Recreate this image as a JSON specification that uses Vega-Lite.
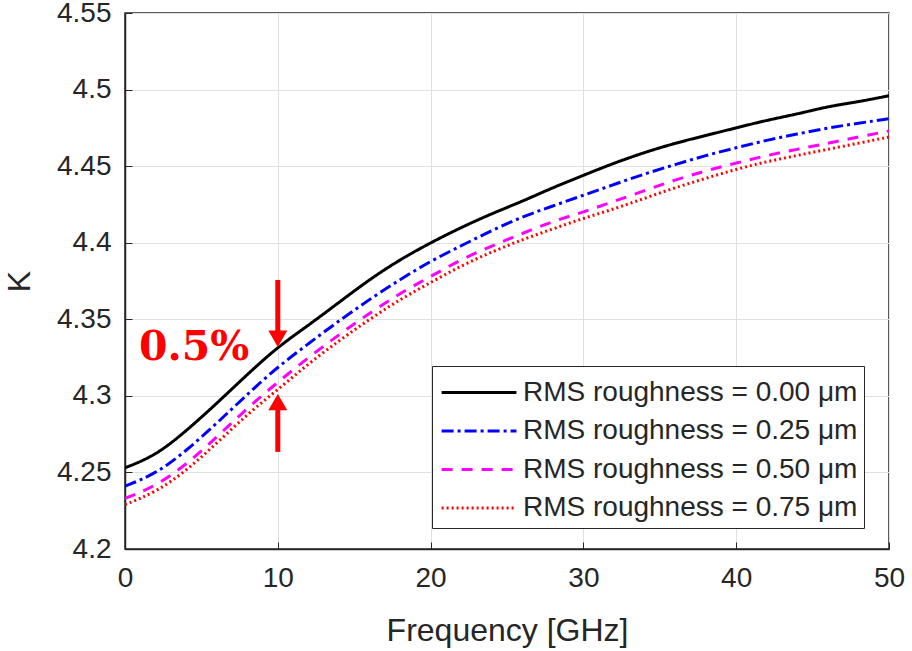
{
  "$schema": "https://vega.github.io/schema/vega-lite/v6.json",
  "width": 764,
  "height": 536,
  "autosize": {"type": "none"},
  "padding": {"left": 125, "top": 13, "right": 23, "bottom": 102},
  "background": "white",
  "config": {
    "view": {"stroke": "#262626", "strokeWidth": 1.5},
    "font": "Liberation Sans",
    "axis": {
      "labelFont": "Liberation Sans",
      "titleFont": "Liberation Sans",
      "labelColor": "#262626",
      "titleColor": "#262626",
      "domainColor": "#262626",
      "tickColor": "#262626",
      "gridColor": "#e0e0e0",
      "gridWidth": 1,
      "titleFontWeight": "normal"
    }
  },
  "layer": [
    {
      "data": {"values": [
        {"f":0,"k":4.253,"s":"RMS roughness = 0.00 μm"},{"f":2,"k":4.261,"s":"RMS roughness = 0.00 μm"},{"f":4,"k":4.277,"s":"RMS roughness = 0.00 μm"},{"f":6,"k":4.295,"s":"RMS roughness = 0.00 μm"},{"f":8,"k":4.314,"s":"RMS roughness = 0.00 μm"},{"f":10,"k":4.332,"s":"RMS roughness = 0.00 μm"},{"f":12,"k":4.346,"s":"RMS roughness = 0.00 μm"},{"f":14,"k":4.361,"s":"RMS roughness = 0.00 μm"},{"f":16,"k":4.376,"s":"RMS roughness = 0.00 μm"},{"f":18,"k":4.389,"s":"RMS roughness = 0.00 μm"},{"f":20,"k":4.400,"s":"RMS roughness = 0.00 μm"},{"f":22,"k":4.410,"s":"RMS roughness = 0.00 μm"},{"f":24,"k":4.419,"s":"RMS roughness = 0.00 μm"},{"f":26,"k":4.427,"s":"RMS roughness = 0.00 μm"},{"f":28,"k":4.436,"s":"RMS roughness = 0.00 μm"},{"f":30,"k":4.444,"s":"RMS roughness = 0.00 μm"},{"f":32,"k":4.452,"s":"RMS roughness = 0.00 μm"},{"f":34,"k":4.459,"s":"RMS roughness = 0.00 μm"},{"f":36,"k":4.465,"s":"RMS roughness = 0.00 μm"},{"f":38,"k":4.470,"s":"RMS roughness = 0.00 μm"},{"f":40,"k":4.475,"s":"RMS roughness = 0.00 μm"},{"f":42,"k":4.480,"s":"RMS roughness = 0.00 μm"},{"f":44,"k":4.484,"s":"RMS roughness = 0.00 μm"},{"f":46,"k":4.489,"s":"RMS roughness = 0.00 μm"},{"f":48,"k":4.492,"s":"RMS roughness = 0.00 μm"},{"f":50,"k":4.496,"s":"RMS roughness = 0.00 μm"},
        {"f":0,"k":4.241,"s":"RMS roughness = 0.25 μm"},{"f":2,"k":4.249,"s":"RMS roughness = 0.25 μm"},{"f":4,"k":4.264,"s":"RMS roughness = 0.25 μm"},{"f":6,"k":4.282,"s":"RMS roughness = 0.25 μm"},{"f":8,"k":4.301,"s":"RMS roughness = 0.25 μm"},{"f":10,"k":4.319,"s":"RMS roughness = 0.25 μm"},{"f":12,"k":4.334,"s":"RMS roughness = 0.25 μm"},{"f":14,"k":4.349,"s":"RMS roughness = 0.25 μm"},{"f":16,"k":4.363,"s":"RMS roughness = 0.25 μm"},{"f":18,"k":4.376,"s":"RMS roughness = 0.25 μm"},{"f":20,"k":4.388,"s":"RMS roughness = 0.25 μm"},{"f":22,"k":4.398,"s":"RMS roughness = 0.25 μm"},{"f":24,"k":4.408,"s":"RMS roughness = 0.25 μm"},{"f":26,"k":4.417,"s":"RMS roughness = 0.25 μm"},{"f":28,"k":4.424,"s":"RMS roughness = 0.25 μm"},{"f":30,"k":4.431,"s":"RMS roughness = 0.25 μm"},{"f":32,"k":4.438,"s":"RMS roughness = 0.25 μm"},{"f":34,"k":4.445,"s":"RMS roughness = 0.25 μm"},{"f":36,"k":4.451,"s":"RMS roughness = 0.25 μm"},{"f":38,"k":4.457,"s":"RMS roughness = 0.25 μm"},{"f":40,"k":4.462,"s":"RMS roughness = 0.25 μm"},{"f":42,"k":4.467,"s":"RMS roughness = 0.25 μm"},{"f":44,"k":4.471,"s":"RMS roughness = 0.25 μm"},{"f":46,"k":4.475,"s":"RMS roughness = 0.25 μm"},{"f":48,"k":4.478,"s":"RMS roughness = 0.25 μm"},{"f":50,"k":4.481,"s":"RMS roughness = 0.25 μm"},
        {"f":0,"k":4.233,"s":"RMS roughness = 0.50 μm"},{"f":2,"k":4.241,"s":"RMS roughness = 0.50 μm"},{"f":4,"k":4.255,"s":"RMS roughness = 0.50 μm"},{"f":6,"k":4.273,"s":"RMS roughness = 0.50 μm"},{"f":8,"k":4.292,"s":"RMS roughness = 0.50 μm"},{"f":10,"k":4.309,"s":"RMS roughness = 0.50 μm"},{"f":12,"k":4.325,"s":"RMS roughness = 0.50 μm"},{"f":14,"k":4.340,"s":"RMS roughness = 0.50 μm"},{"f":16,"k":4.354,"s":"RMS roughness = 0.50 μm"},{"f":18,"k":4.367,"s":"RMS roughness = 0.50 μm"},{"f":20,"k":4.378,"s":"RMS roughness = 0.50 μm"},{"f":22,"k":4.389,"s":"RMS roughness = 0.50 μm"},{"f":24,"k":4.398,"s":"RMS roughness = 0.50 μm"},{"f":26,"k":4.406,"s":"RMS roughness = 0.50 μm"},{"f":28,"k":4.414,"s":"RMS roughness = 0.50 μm"},{"f":30,"k":4.420,"s":"RMS roughness = 0.50 μm"},{"f":32,"k":4.427,"s":"RMS roughness = 0.50 μm"},{"f":34,"k":4.434,"s":"RMS roughness = 0.50 μm"},{"f":36,"k":4.441,"s":"RMS roughness = 0.50 μm"},{"f":38,"k":4.447,"s":"RMS roughness = 0.50 μm"},{"f":40,"k":4.452,"s":"RMS roughness = 0.50 μm"},{"f":42,"k":4.457,"s":"RMS roughness = 0.50 μm"},{"f":44,"k":4.461,"s":"RMS roughness = 0.50 μm"},{"f":46,"k":4.465,"s":"RMS roughness = 0.50 μm"},{"f":48,"k":4.469,"s":"RMS roughness = 0.50 μm"},{"f":50,"k":4.473,"s":"RMS roughness = 0.50 μm"},
        {"f":0,"k":4.229,"s":"RMS roughness = 0.75 μm"},{"f":2,"k":4.237,"s":"RMS roughness = 0.75 μm"},{"f":4,"k":4.251,"s":"RMS roughness = 0.75 μm"},{"f":6,"k":4.269,"s":"RMS roughness = 0.75 μm"},{"f":8,"k":4.288,"s":"RMS roughness = 0.75 μm"},{"f":10,"k":4.304,"s":"RMS roughness = 0.75 μm"},{"f":12,"k":4.321,"s":"RMS roughness = 0.75 μm"},{"f":14,"k":4.336,"s":"RMS roughness = 0.75 μm"},{"f":16,"k":4.350,"s":"RMS roughness = 0.75 μm"},{"f":18,"k":4.363,"s":"RMS roughness = 0.75 μm"},{"f":20,"k":4.374,"s":"RMS roughness = 0.75 μm"},{"f":22,"k":4.385,"s":"RMS roughness = 0.75 μm"},{"f":24,"k":4.394,"s":"RMS roughness = 0.75 μm"},{"f":26,"k":4.402,"s":"RMS roughness = 0.75 μm"},{"f":28,"k":4.409,"s":"RMS roughness = 0.75 μm"},{"f":30,"k":4.416,"s":"RMS roughness = 0.75 μm"},{"f":32,"k":4.422,"s":"RMS roughness = 0.75 μm"},{"f":34,"k":4.429,"s":"RMS roughness = 0.75 μm"},{"f":36,"k":4.436,"s":"RMS roughness = 0.75 μm"},{"f":38,"k":4.442,"s":"RMS roughness = 0.75 μm"},{"f":40,"k":4.448,"s":"RMS roughness = 0.75 μm"},{"f":42,"k":4.453,"s":"RMS roughness = 0.75 μm"},{"f":44,"k":4.457,"s":"RMS roughness = 0.75 μm"},{"f":46,"k":4.461,"s":"RMS roughness = 0.75 μm"},{"f":48,"k":4.465,"s":"RMS roughness = 0.75 μm"},{"f":50,"k":4.469,"s":"RMS roughness = 0.75 μm"}
      ]},
      "mark": {"type": "line", "strokeWidth": 3, "interpolate": "basis", "clip": true},
      "encoding": {
        "x": {"field": "f", "type": "quantitative", "scale": {"domain": [0, 50], "nice": false},
          "axis": {"title": "Frequency [GHz]", "values": [0,10,20,30,40,50], "labelFontSize": 28, "titleFontSize": 32, "tickSize": -7, "labelPadding": 22, "titlePadding": 23, "domainWidth": 1.5, "labelFlush": false}},
        "y": {"field": "k", "type": "quantitative", "scale": {"domain": [4.2, 4.55], "nice": false, "zero": false},
          "axis": {"title": "K", "format": "~g", "values": [4.2,4.25,4.3,4.35,4.4,4.45,4.5,4.55], "labelFontSize": 28, "titleFontSize": 32, "tickSize": -7, "labelPadding": 21, "titlePadding": 20, "domainWidth": 1.5, "labelFlush": false}},
        "color": {"field": "s", "type": "nominal",
          "scale": {"domain": ["RMS roughness = 0.00 μm","RMS roughness = 0.25 μm","RMS roughness = 0.50 μm","RMS roughness = 0.75 μm"], "range": ["#000000","#0000ff","#ff00ff","#ff0000"]},
          "legend": {"title": null, "orient": "none", "legendX": 307, "legendY": 353, "fillColor": "white", "strokeColor": "#262626", "padding": 6, "labelFont": "Liberation Sans", "labelFontSize": 28, "labelColor": "#262626", "labelLimit": 0, "symbolType": "M-0.89,0L3.05,0", "symbolStrokeWidth": 3, "symbolSize": 1444, "rowPadding": 3.5, "labelOffset": 44}},
        "strokeDash": {"field": "s", "type": "nominal",
          "scale": {"domain": ["RMS roughness = 0.00 μm","RMS roughness = 0.25 μm","RMS roughness = 0.50 μm","RMS roughness = 0.75 μm"], "range": [[1,0],[12,4,3,4],[11,9],[2,3]]}}
      }
    },
    {
      "data": {"values": [
        {"x": 10, "y1": 4.3757, "y2": 4.339},
        {"x": 10, "y1": 4.2634, "y2": 4.294}
      ]},
      "mark": {"type": "rule", "color": "#ff0000", "strokeWidth": 5},
      "encoding": {
        "x": {"field": "x", "type": "quantitative"},
        "y": {"field": "y1", "type": "quantitative"},
        "y2": {"field": "y2"}
      }
    },
    {
      "data": {"values": [
        {"x": 10, "y": 4.3373, "dir": "down"},
        {"x": 10, "y": 4.2959, "dir": "up"}
      ]},
      "mark": {"type": "point", "filled": true, "color": "#ff0000", "opacity": 1, "size": 360},
      "encoding": {
        "x": {"field": "x", "type": "quantitative"},
        "y": {"field": "y", "type": "quantitative"},
        "shape": {"field": "dir", "type": "nominal", "scale": {"domain": ["down","up"], "range": ["triangle-down","triangle-up"]}, "legend": null}
      }
    },
    {
      "data": {"values": [{"x": 4.52, "y": 4.331, "t": "0.5%"}]},
      "mark": {"type": "text", "font": "DejaVu Serif", "fontWeight": "bold", "fontSize": 41, "color": "#ff0000", "align": "center", "baseline": "middle"},
      "encoding": {
        "x": {"field": "x", "type": "quantitative"},
        "y": {"field": "y", "type": "quantitative"},
        "text": {"field": "t"}
      }
    }
  ]
}
